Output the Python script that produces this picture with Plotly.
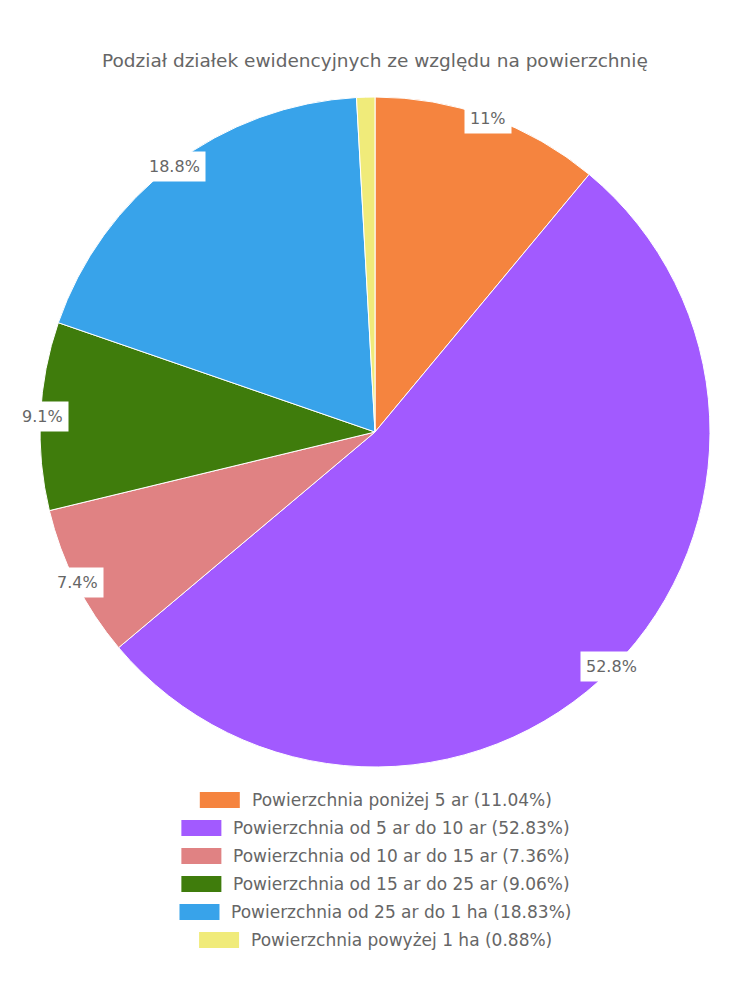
import math
import plotly.graph_objects as go

labels = [
    "Powierzchnia poniżej 5 ar (11.04%)",
    "Powierzchnia od 5 ar do 10 ar (52.83%)",
    "Powierzchnia od 10 ar do 15 ar (7.36%)",
    "Powierzchnia od 15 ar do 25 ar (9.06%)",
    "Powierzchnia od 25 ar do 1 ha (18.83%)",
    "Powierzchnia powyżej 1 ha (0.88%)",
]
values = [11.04, 52.83, 7.36, 9.06, 18.83, 0.88]
colors = ["#F5843F", "#A25AFF", "#E08283", "#3F7C0C", "#38A3EA", "#F0EB7A"]
title = "Podział działek ewidencyjnych ze względu na powierzchnię"

W, H = 750, 1000
cx, cy, R = 375, 432, 335
FONT = "DejaVu Sans"
GREY = "#666666"

# DejaVu Sans advance widths (units per em = 2048), for centring legend rows
ADV = {" ": 651, "%": 1946, "(": 799, ")": 799, ".": 651, "P": 1235,
       "a": 1255, "c": 1126, "d": 1300, "e": 1260, "h": 1298, "i": 569,
       "j": 569, "l": 569, "n": 1298, "o": 1253, "p": 1300, "r": 842,
       "w": 1675, "y": 1212, "z": 1075, "ż": 1075}
def text_width(s, size):
    return sum(ADV.get(ch, 1303 if ch.isdigit() else 1200) for ch in s) / 2048 * size

fig = go.Figure(go.Pie(
    labels=labels, values=values, sort=False, direction="clockwise", rotation=0,
    marker=dict(colors=colors, line=dict(color="white", width=1)),
    textinfo="none", hoverinfo="label", showlegend=False,
    domain=dict(x=[(cx - R) / W, (cx + R) / W], y=[1 - (cy + R) / H, 1 - (cy - R) / H]),
))

def fmt(v):
    s = f"{v:.1f}"
    return s[:-2] if s.endswith(".0") else s

total = sum(values)
annotations = []
shapes = []
cum = 0
for v in values:
    mid = (cum + v / 2) / total * 2 * math.pi
    cum += v
    if v / total < 0.02:
        continue
    px = cx + (R - 2) * math.sin(mid)
    py = cy - (R - 2) * math.cos(mid)
    annotations.append(dict(
        x=px / W, y=1 - py / H, xref="paper", yref="paper", showarrow=False,
        xanchor="center", yanchor="middle",
        text=fmt(v / total * 100) + "%", bgcolor="white", borderpad=5,
        font=dict(size=16, color=GREY, family=FONT),
    ))

annotations.append(dict(
    x=0.5, y=1 - 61 / H, xref="paper", yref="paper", showarrow=False,
    xanchor="center", yanchor="middle",
    text=title, font=dict(size=18.5, color=GREY, family=FONT),
))

# legend: one centred row per slice
LEG_SIZE = 17
SW_W, SW_H, GAP = 40, 16, 10
row_y0, row_dy = 800, 28
for i, (lab, col) in enumerate(zip(labels, colors)):
    yc = row_y0 + i * row_dy
    tw = text_width(lab, LEG_SIZE)
    x0 = W / 2 - (SW_W + GAP + tw) / 2
    shapes.append(dict(type="rect", xref="paper", yref="paper",
                       x0=x0 / W, x1=(x0 + SW_W) / W,
                       y0=1 - (yc + SW_H / 2) / H, y1=1 - (yc - SW_H / 2) / H,
                       fillcolor=col, line=dict(width=0)))
    annotations.append(dict(
        x=(x0 + SW_W + GAP) / W, y=1 - yc / H, xref="paper", yref="paper",
        showarrow=False, xanchor="left", yanchor="middle", text=lab,
        font=dict(size=LEG_SIZE, color=GREY, family=FONT),
    ))

fig.update_layout(
    width=W, height=H, margin=dict(l=0, r=0, t=0, b=0),
    paper_bgcolor="white", plot_bgcolor="white",
    font=dict(family=FONT, color=GREY),
    annotations=annotations, shapes=shapes,
    showlegend=False,
)
fig.write_html("out.html", config={"displayModeBar": False},
               post_script="document.body.style.margin='0';")
